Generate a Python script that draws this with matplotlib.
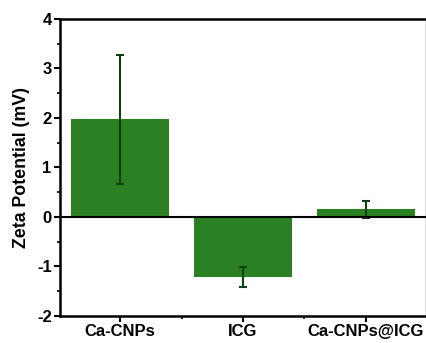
import matplotlib
matplotlib.use("Agg")
import matplotlib.pyplot as plt
from matplotlib.ticker import MultipleLocator, FixedLocator

categories = ["Ca-CNPs", "ICG", "Ca-CNPs@ICG"]
values = [1.97, -1.21, 0.15]
errors = [1.30, 0.20, 0.18]

plt.rcParams['font.family'] = ['Liberation Sans', 'DejaVu Sans']
plt.rcParams['font.weight'] = 'bold'
plt.rcParams['axes.unicode_minus'] = False

fig = plt.figure(figsize=(4.27, 3.43), dpi=100)
ax = fig.add_axes([0.1405, 0.079, 0.857, 0.866])

x = list(range(len(categories)))
ax.bar(x, values, width=0.8, color='#2a8022', zorder=2)
ax.errorbar(x, values, yerr=errors, fmt='none', ecolor='#0f3f10',
            elinewidth=1.5, capsize=3, capthick=1.5, zorder=3)
ax.axhline(0, color='black', lw=1.5, zorder=4)

ax.set_xlim(-0.49, 2.49)
ax.set_ylim(-2, 4)
ax.set_xticks(x)
ax.set_xticklabels(categories, fontsize=12, fontweight='bold')
ax.xaxis.set_minor_locator(FixedLocator([0.5, 1.5]))
ax.yaxis.set_major_locator(MultipleLocator(1))
ax.yaxis.set_minor_locator(MultipleLocator(0.5))
ax.tick_params(axis='both', which='major', direction='out', length=4, width=1.5, labelsize=12, pad=2)
ax.tick_params(axis='both', which='minor', direction='out', length=2.5, width=1.2)
ax.tick_params(axis='x', which='both', top=False)
ax.tick_params(axis='y', which='both', right=False)
for lab in ax.get_yticklabels() + ax.get_xticklabels():
    lab.set_fontweight('bold')

ax.set_ylabel('Zeta Potential (mV)', fontsize=12.8, fontweight='bold', labelpad=5)

for s in ['left', 'bottom', 'top']:
    ax.spines[s].set_linewidth(1.8)
    ax.spines[s].set_color('black')
ax.spines['right'].set_linewidth(1.0)
ax.spines['right'].set_color('#555555')

fig.savefig('out.png', dpi=100)
